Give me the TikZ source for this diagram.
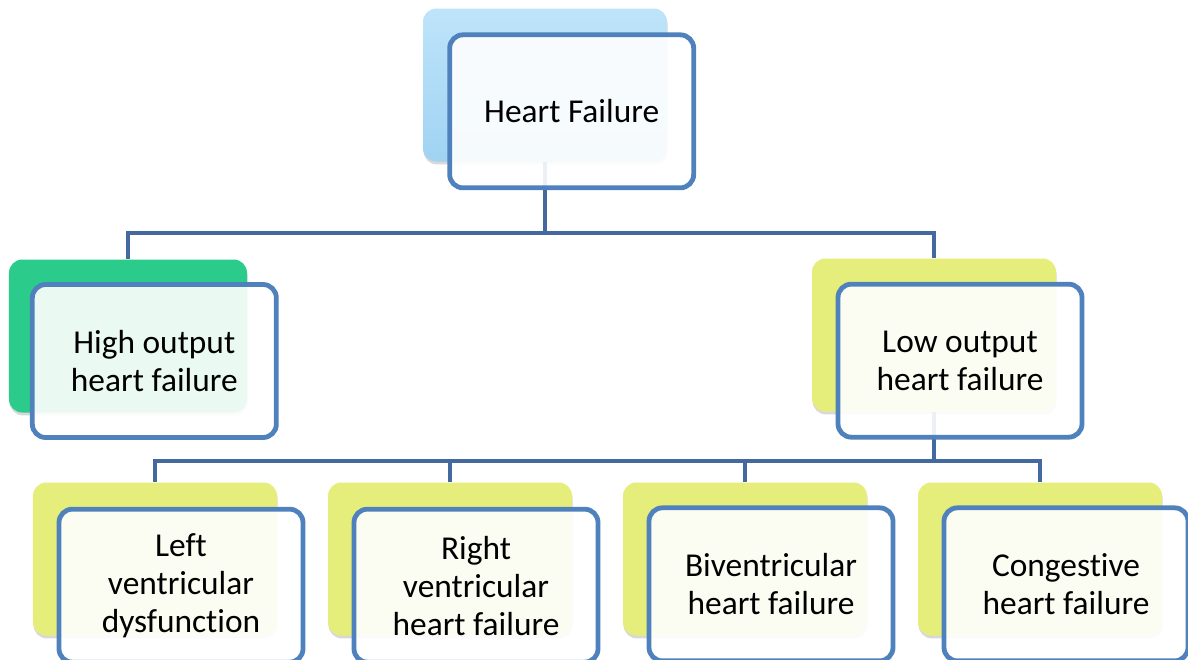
\documentclass[tikz,border=0pt]{standalone}
\usepackage{fontspec}
\setmainfont{Carlito}[Ligatures=NoCommon]
\usepackage{tikz}
\usetikzlibrary{positioning,calc,shadows}
\definecolor{frameblue}{RGB}{79,129,189}
\definecolor{linkblue}{RGB}{68,105,159}
\definecolor{skytop}{RGB}{190,228,250}
\definecolor{skybottom}{RGB}{160,211,242}
\definecolor{mintgreen}{RGB}{43,204,139}
\definecolor{limeyellow}{RGB}{230,238,123}
\tikzset{
    backbox/.style={
        rounded corners=0.4cm,
        minimum width=7.32cm,
        minimum height=4.59cm,
        drop shadow={shadow xshift=0.5pt,shadow yshift=-2.5pt,opacity=0.3}
    },
    frontbox/.style={
        rounded corners=0.4cm,
        draw=frameblue,
        line width=4.1pt,
        fill=white,
        fill opacity=0.9,
        text opacity=1,
        minimum width=7.32cm,
        minimum height=4.59cm,
        align=center,
        font=\fontsize{28.5}{32.4}\selectfont
    },
    link/.style={draw=linkblue,line width=3.8pt}
}

\begin{document}
\begin{tikzpicture}[x=0.03cm,y=-0.03cm]
    \useasboundingbox[fill=white] (0,0) rectangle (1188,659);

    \node[backbox,top color=skytop,bottom color=skybottom] (hfback) at (545,85) {};
    \node[backbox,fill=mintgreen,minimum width=7.14cm] (hoback) at (128,336) {};
    \node[backbox,fill=limeyellow] (loback) at (934,335) {};
    \foreach \name/\x in {lv/155, rv/450, bv/745, cg/1040}
        \node[backbox,fill=limeyellow] (\name back) at (\x,559) {};

    \coordinate (splitA) at (0,233);
    \coordinate (splitB) at (0,461);
    \draw[link] (hfback.south) -- (hfback.south |- splitA) -| (hoback.north);
    \draw[link] (hfback.south |- splitA) -| (loback.north);
    \draw[link] (loback.south) -- (loback.south |- splitB) -| (lvback.north);
    \draw[link] (loback.south |- splitB) -| (cgback.north);
    \draw[link] (rvback.north) -- (rvback.north |- splitB);
    \draw[link] (bvback.north) -- (bvback.north |- splitB);

    \node[frontbox,xshift=0.8cm,yshift=-0.79cm] (hf) at (hfback) {Heart Failure};
    \node[frontbox,xshift=0.79cm,yshift=-0.75cm] (ho) at (hoback) {High output\\heart failure};
    \node[frontbox,xshift=0.78cm,yshift=-0.77cm] (lo) at (loback) {Low output\\heart failure};
    \node[frontbox,xshift=0.78cm,yshift=-0.8cm] (lv) at (lvback) {Left\\ventricular\\dysfunction};
    \node[frontbox,xshift=0.78cm,yshift=-0.8cm] (rv) at (rvback) {Right\\ventricular\\heart failure};
    \node[frontbox,xshift=0.78cm,yshift=-0.76cm] (bv) at (bvback) {Biventricular\\heart failure};
    \node[frontbox,xshift=0.78cm,yshift=-0.76cm] (cg) at (cgback) {Congestive\\heart failure};
\end{tikzpicture}
\end{document}
